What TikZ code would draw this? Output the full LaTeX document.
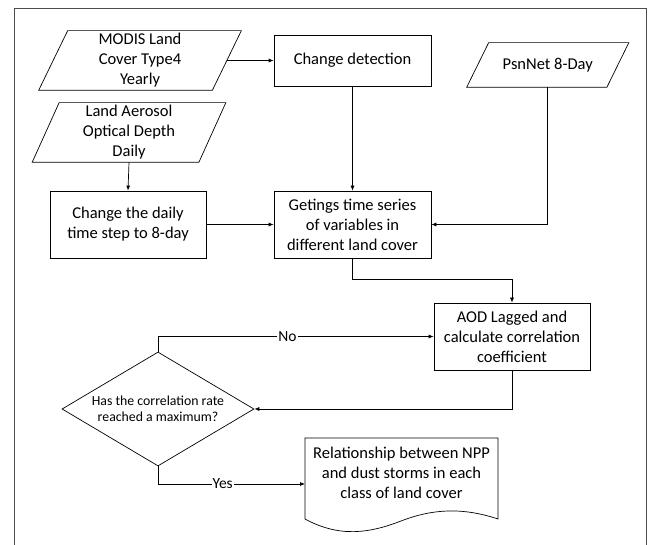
\documentclass[tikz,border=0pt]{standalone}
\usepackage{fontspec}
\setmainfont{Carlito}
\usetikzlibrary{arrows.meta,shapes.geometric}
\begin{document}
\begin{tikzpicture}[x=1pt,y=-1pt,
  line width=0.7pt,
  box/.style={draw, rectangle, inner sep=1pt, align=center, font=\fontsize{16.5}{20}\selectfont},
  io/.style={rectangle, inner sep=1pt, align=center, font=\fontsize{16.5}{20}\selectfont},
  dec/.style={draw, diamond, inner sep=0pt, minimum width=192pt, minimum height=114pt},
  dectext/.style={align=center, inner sep=0pt, font=\fontsize{13.8}{16.5}\selectfont},
  lab/.style={fill=white, inner sep=1pt, font=\fontsize{15.5}{18}\selectfont},
  arr/.style={-{Latex[length=5pt,width=4pt]}},
]
\useasboundingbox (0,0) rectangle (651,545);
% frame
\draw[black!70] (14,545) -- (14,8) -- (646,8) -- (646,545);

% MODIS parallelogram
\node[io, minimum width=173pt, minimum height=59pt] (m) at (140,60.5) {MODIS Land\\Cover Type4\\Yearly};
\draw ([xshift=14.5pt]m.north west) -- ([xshift=14.5pt]m.north east) -- ([xshift=-14.5pt]m.south east) -- ([xshift=-14.5pt]m.south west) -- cycle;

% Aerosol parallelogram
\node[io, minimum width=166pt, minimum height=59pt] (a) at (129,132.5) {Land Aerosol\\Optical Depth\\Daily};
\draw ([xshift=13.5pt]a.north west) -- ([xshift=13.5pt]a.north east) -- ([xshift=-13.5pt]a.south east) -- ([xshift=-13.5pt]a.south west) -- cycle;

% PsnNet parallelogram
\node[io, minimum width=139.5pt, minimum height=44pt] (p) at (547.75,65) {PsnNet 8-Day};
\draw ([xshift=11pt]p.north west) -- ([xshift=11pt]p.north east) -- ([xshift=-11pt]p.south east) -- ([xshift=-11pt]p.south west) -- cycle;

% boxes
\node[box, minimum width=157pt, minimum height=51pt] (cd) at (352.5,60.5) {Change detection};
\node[box, minimum width=156pt, minimum height=67pt] (cdd) at (128,224.5) {Change the daily\\time step to 8-day};
\node[box, minimum width=157pt, minimum height=67pt] (g) at (352.5,224.5) {Getings time series\\of variables in\\different land cover};
\node[box, minimum width=156pt, minimum height=67pt] (aod) at (512,336.5) {AOD Lagged and\\calculate correlation\\coefficient};

% decision
\node[dec] (d) at (158,409) {};
\node[dectext] (dt) at (d.center) {Has the correlation rate\\reached a maximum?};

% document
\node[io, minimum width=193pt] (doc) at (401.5,473) {Relationship between NPP\\and dust storms in each\\class of land cover};
\draw (305,519) -- (305,438) -- (498,438) -- (498,519)
  .. controls (462,507) and (432,509) .. (401,521)
  .. controls (370,533) and (340,538) .. (305,519);
\coordinate (docin) at (305,484);

% connectors
\draw[arr] (m.east) -- (cd.west |- m.east);
\draw[arr] (a.south) -- (cdd.north);
\draw[arr] (cd.south) -- (g.north);
\draw[arr] (cdd.east) -- (g.west);
\draw[arr] (p.south) |- (g.east);
\draw[arr] (g.south) -- ++(0,21) -| (aod.north);
\draw[arr] (aod.south) |- (d.east);
\draw[arr] (d.north) |- node[lab, pos=0.735] {No} (aod.west);
\draw[arr] (d.south) |- node[lab, pos=0.72] {Yes} (docin);
\end{tikzpicture}
\end{document}
